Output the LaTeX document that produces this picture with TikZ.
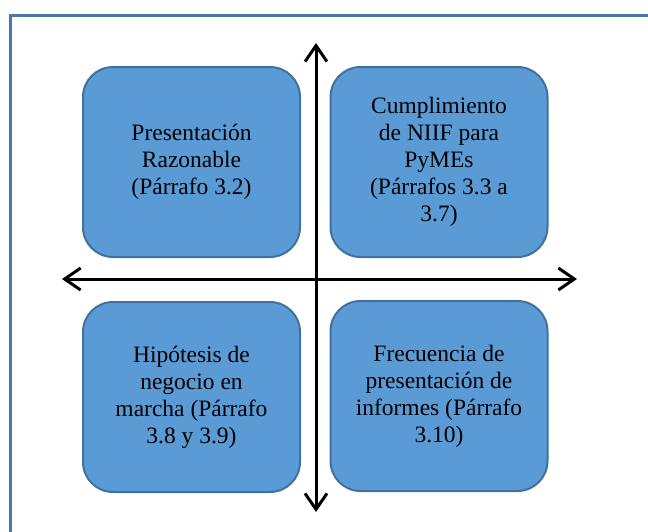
\documentclass[tikz,border=0pt]{standalone}
\usepackage{fontspec}
\setmainfont{Liberation Serif}
\usetikzlibrary{arrows.meta}
\definecolor{boxfill}{HTML}{5B9BD5}
\definecolor{boxline}{HTML}{41719C}
\definecolor{frameline}{HTML}{4A78A8}

\begin{document}
\begin{tikzpicture}[
  x=1pt, y=-1pt,
  font=\fontsize{23.5}{27}\selectfont,
  box/.style   = {draw=boxline, line width=2pt, fill=boxfill,
                  rounded corners=30pt, align=center,
                  minimum width=217pt, minimum height=190pt},
  axis/.style  = {{Straight Barb[length=16pt,width=22pt]}-{Straight Barb[length=16pt,width=22pt]},
                  line width=3pt, black},
]
\useasboundingbox (0,0) rectangle (648,531);

%%────────── frame ───────────────────────────────────────────
\draw[frameline, line width=3pt] (10,545) -- (10,15) -- (665,15);

%%────────── quadrants ───────────────────────────────────────
\node[box] (razon)  at (191.5,162) {Presentación\\Razonable\\(Párrafo 3.2)};
\node[box] (niif)   at (439,162)   {Cumplimiento\\de NIIF para\\PyMEs\\(Párrafos 3.3 a\\3.7)};
\node[box] (marcha) at (191.5,397) {Hipótesis de\\negocio en\\marcha (Párrafo\\3.8 y 3.9)};
\node[box] (frec)   at (439,396)   {Frecuencia de\\presentación de\\informes (Párrafo\\3.10)};

%%────────── axes ────────────────────────────────────────────
\coordinate (vtop) at (316,43);
\coordinate (vbot) at (316,512);
\coordinate (hlft) at (62,279);
\coordinate (hrgt) at (577,279);

\draw[axis] (vbot) -- (vtop);
\draw[axis] (hlft) -- (hrgt);

\end{tikzpicture}
\end{document}
